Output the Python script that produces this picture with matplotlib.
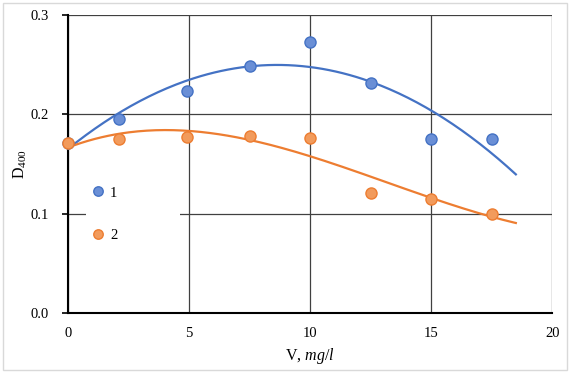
import numpy as np
import matplotlib.pyplot as plt
from matplotlib.patches import Rectangle

plt.rcParams["font.family"] = ["Liberation Serif", "DejaVu Serif"]
plt.rcParams["mathtext.fontset"] = "custom"
plt.rcParams["mathtext.rm"] = "Liberation Serif"
plt.rcParams["mathtext.it"] = "Liberation Serif:italic"

# ----------------------------------------------------
# Data
# ----------------------------------------------------
volume = [0, 2.1, 4.9, 7.5, 10, 12.5, 15, 17.5]
d400_series1 = [0.171, 0.195, 0.224, 0.249, 0.273, 0.232, 0.175, 0.175]
d400_series2 = [0.171, 0.175, 0.177, 0.178, 0.176, 0.121, 0.115, 0.100]
series_labels = ["1", "2"]

BLUE_EDGE = "#4472c4"
BLUE_FILL = "#6a8fd6"
ORANGE_EDGE = "#ed7d31"
ORANGE_FILL = "#f29b5c"

fig = plt.figure(figsize=(5.71, 3.75), dpi=100)
ax = fig.add_axes([0.119, 0.165, 0.848, 0.795])

# outer light frame
fig.patches.append(Rectangle((0.006, 0.013), 0.987, 0.98, transform=fig.transFigure,
                             fill=False, edgecolor="#d9d9d9", linewidth=1))

# trend lines (polynomial fits of the data)
x_fit = np.linspace(0, 18.5, 200)
fit1 = np.polyfit(volume, d400_series1, 2)
fit2 = np.polyfit(volume, d400_series2, 3)
ax.plot(x_fit, np.polyval(fit1, x_fit), color=BLUE_EDGE, lw=1.6, zorder=3)
ax.plot(x_fit, np.polyval(fit2, x_fit), color=ORANGE_EDGE, lw=1.6, zorder=3)

ax.plot(volume, d400_series1, "o", ms=8, mfc=BLUE_FILL, mec=BLUE_EDGE, mew=1,
        label=series_labels[0], zorder=4, clip_on=False)
ax.plot(volume, d400_series2, "o", ms=8, mfc=ORANGE_FILL, mec=ORANGE_EDGE, mew=1,
        label=series_labels[1], zorder=4, clip_on=False)

ax.set_xlim(0, 20)
ax.set_ylim(0, 0.3)
ax.set_xticks([0, 5, 10, 15, 20])
ax.set_yticks([0.0, 0.1, 0.2, 0.3])
ax.set_yticklabels(["0.0", "0.1", "0.2", "0.3"])
ax.grid(True, color="#404040", lw=0.9)
ax.set_axisbelow(True)

for side in ["top", "right"]:
    ax.spines[side].set_visible(False)
ax.spines["left"].set_linewidth(1.5)
ax.spines["bottom"].set_linewidth(1.5)
ax.tick_params(axis="y", length=4, width=1.2, labelsize=10.5, pad=10)
ax.tick_params(axis="x", length=0, labelsize=10.5, pad=10)

ax.set_xlabel(r"V, $\it{mg/l}$", fontsize=11.5, labelpad=4)
ax.set_ylabel(r"D$_{400}$", fontsize=11.5, labelpad=1)

# white legend area hiding the grid behind it
ax.add_patch(Rectangle((0.037, 0.19), 0.194, 0.29, transform=ax.transAxes,
                       facecolor="white", edgecolor="none", zorder=2))

leg = ax.legend(loc="center left", bbox_to_anchor=(0.028, 0.332), frameon=False,
                fontsize=10.5, handletextpad=0.25, handlelength=1.2,
                labelspacing=2.0, borderpad=0.0, markerscale=0.85)

fig.savefig("out.png", dpi=100)
